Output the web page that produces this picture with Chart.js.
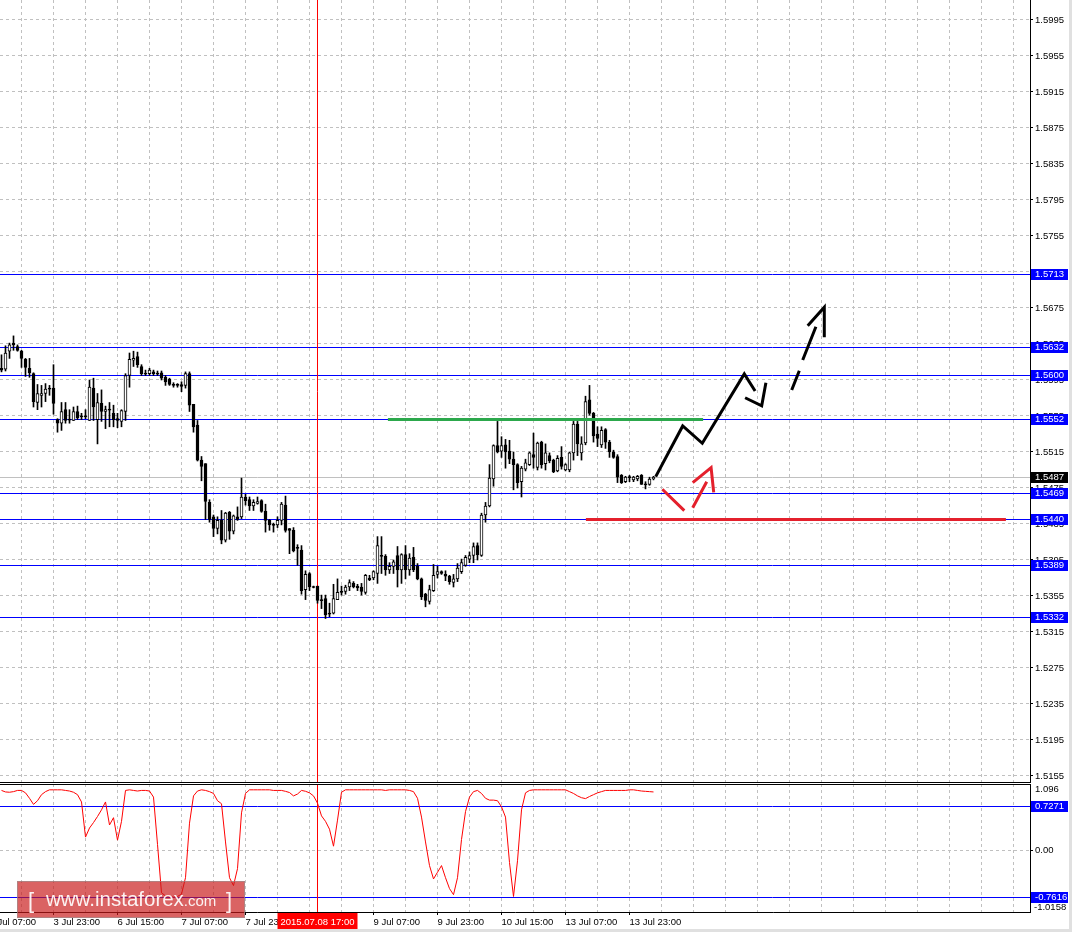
<!DOCTYPE html>
<html><head><meta charset="utf-8">
<script src="https://cdn.jsdelivr.net/npm/chart.js@4.4.1/dist/chart.umd.min.js"></script>
<style>
html,body{margin:0;padding:0;background:#fff;overflow:hidden;}
#wrap{position:relative;width:1072px;height:932px;background:#fff;}
#cMain{position:absolute;left:0;top:0;}
#cOsc{position:absolute;left:0;top:783px;}
</style></head><body>
<div id="wrap">
<canvas id="cMain" width="1072" height="783"></canvas>
<canvas id="cOsc" width="1072" height="149"></canvas>
</div>
<script>
// ---------------- DATA ----------------
const firstBar = -13; // bar index of first candle (bar 0 = 3 Jul 23:00, H1)
const candleOpen = [1.5608,1.5607,1.5627,1.5636,1.5632,1.5627,1.5618,1.5608,1.5602,1.5570,1.5578,1.5580,1.5585,
1.5586,1.5551,1.5547,1.5562,1.5551,1.5550,1.5560,1.5555,1.5554,1.5550,
1.5586,1.5551,1.5569,1.5560,1.5562,1.5558,1.5552,1.5549,1.5560,1.5600,
1.5617,1.5621,1.5610,1.5602,1.5602,1.5604,1.5602,1.5603,1.5598,1.5596,
1.5590,1.5589,1.5590,1.5589,1.5602,1.5568,1.5545,1.5506,1.5502,1.5459,
1.5443,1.5430,1.5439,1.5417,1.5448,1.5427,1.5443,1.5443,1.5465,1.5462,
1.5455,1.5458,1.5461,1.5449,1.5439,1.5434,1.5434,1.5439,1.5456,1.5430,
1.5428,1.5409,1.5406,1.5362,1.5380,1.5365,1.5366,1.5351,1.5352,1.5336,
1.5336,1.5351,1.5360,1.5360,1.5365,1.5369,1.5366,1.5365,1.5359,1.5375,
1.5375,1.5380,1.5400,1.5399,1.5384,1.5388,1.5400,1.5384,1.5401,1.5384,
1.5398,1.5388,1.5374,1.5357,1.5349,1.5361,1.5379,1.5382,1.5379,1.5377,
1.5370,1.5374,1.5382,1.5389,1.5396,1.5400,1.5411,1.5400,1.5445,1.5455,
1.5485,1.5522,1.5516,1.5523,1.5516,1.5507,1.5501,1.5482,1.5496,1.5501,
1.5512,1.5498,1.5526,1.5502,1.5511,1.5506,1.5494,1.5509,1.5495,1.5495,
1.5514,1.5546,1.5514,1.5525,1.5573,1.5558,1.5535,1.5523,1.5540,1.5526,
1.5515,1.5510,1.5489,1.5482,1.5487,1.5484,1.5485,1.5489,1.5479,1.5479,
1.5485];
const candleHigh = [1.5623,1.5633,1.5636,1.5644,1.5634,1.5628,1.5619,1.5619,1.5603,1.5590,1.5589,1.5591,1.5589,
1.5612,1.5552,1.5570,1.5570,1.5562,1.5565,1.5566,1.5558,1.5562,1.5595,
1.5597,1.5580,1.5584,1.5566,1.5570,1.5567,1.5558,1.5562,1.5602,1.5625,
1.5627,1.5626,1.5612,1.5606,1.5608,1.5606,1.5605,1.5605,1.5600,1.5597,
1.5592,1.5591,1.5593,1.5604,1.5604,1.5568,1.5550,1.5510,1.5502,1.5462,
1.5445,1.5443,1.5450,1.5448,1.5449,1.5445,1.5454,1.5486,1.5468,1.5465,
1.5462,1.5465,1.5462,1.5457,1.5440,1.5436,1.5443,1.5459,1.5466,1.5430,
1.5431,1.5412,1.5411,1.5383,1.5381,1.5366,1.5366,1.5356,1.5356,1.5347,
1.5368,1.5374,1.5366,1.5367,1.5373,1.5371,1.5368,1.5369,1.5379,1.5378,
1.5383,1.5421,1.5421,1.5401,1.5392,1.5395,1.5410,1.5402,1.5411,1.5402,
1.5409,1.5391,1.5375,1.5358,1.5367,1.5390,1.5388,1.5383,1.5383,1.5378,
1.5379,1.5391,1.5396,1.5400,1.5404,1.5414,1.5414,1.5447,1.5459,1.5501,
1.5523,1.5549,1.5532,1.5529,1.5528,1.5515,1.5502,1.5499,1.5507,1.5515,
1.5536,1.5526,1.5527,1.5524,1.5514,1.5507,1.5511,1.5521,1.5502,1.5515,
1.5549,1.5549,1.5532,1.5577,1.5589,1.5559,1.5543,1.5543,1.5541,1.5528,
1.5517,1.5512,1.5490,1.5488,1.5489,1.5488,1.5489,1.5490,1.5482,1.5487,
1.5488];
const candleLow = [1.5604,1.5605,1.5619,1.5628,1.5627,1.5609,1.5599,1.5598,1.5565,1.5562,1.5565,1.5571,1.5578,
1.5557,1.5537,1.5539,1.5547,1.5547,1.5550,1.5551,1.5551,1.5552,1.5550,
1.5550,1.5524,1.5549,1.5541,1.5543,1.5543,1.5542,1.5543,1.5550,1.5587,
1.5610,1.5609,1.5600,1.5600,1.5600,1.5600,1.5600,1.5595,1.5589,1.5589,
1.5587,1.5587,1.5582,1.5586,1.5560,1.5537,1.5505,1.5483,1.5440,1.5437,
1.5421,1.5424,1.5413,1.5415,1.5418,1.5424,1.5439,1.5441,1.5456,1.5450,
1.5450,1.5457,1.5448,1.5426,1.5428,1.5426,1.5431,1.5434,1.5426,1.5402,
1.5404,1.5389,1.5357,1.5351,1.5361,1.5364,1.5347,1.5341,1.5330,1.5332,
1.5335,1.5351,1.5356,1.5357,1.5361,1.5364,1.5361,1.5356,1.5357,1.5372,
1.5373,1.5369,1.5380,1.5378,1.5380,1.5380,1.5365,1.5369,1.5374,1.5378,
1.5382,1.5373,1.5351,1.5343,1.5346,1.5360,1.5375,1.5379,1.5372,1.5368,
1.5365,1.5371,1.5380,1.5388,1.5392,1.5392,1.5395,1.5399,1.5437,1.5454,
1.5477,1.5514,1.5509,1.5497,1.5502,1.5473,1.5475,1.5465,1.5494,1.5500,
1.5497,1.5495,1.5497,1.5495,1.5503,1.5492,1.5493,1.5496,1.5494,1.5493,
1.5506,1.5511,1.5506,1.5523,1.5556,1.5526,1.5521,1.5520,1.5519,1.5509,
1.5508,1.5481,1.5480,1.5481,1.5482,1.5482,1.5483,1.5479,1.5474,1.5478,
1.5484];
const candleClose = [1.5606,1.5625,1.5634,1.5634,1.5628,1.5619,1.5609,1.5603,1.5571,1.5580,1.5580,1.5585,1.5586,
1.5569,1.5547,1.5560,1.5550,1.5551,1.5560,1.5553,1.5554,1.5555,1.5587,
1.5565,1.5570,1.5560,1.5562,1.5562,1.5551,1.5550,1.5561,1.5600,1.5618,
1.5619,1.5612,1.5602,1.5602,1.5606,1.5602,1.5602,1.5597,1.5593,1.5590,
1.5589,1.5590,1.5588,1.5602,1.5567,1.5543,1.5506,1.5499,1.5460,1.5440,
1.5430,1.5439,1.5417,1.5447,1.5427,1.5444,1.5440,1.5465,1.5461,1.5455,
1.5459,1.5460,1.5449,1.5439,1.5434,1.5434,1.5439,1.5457,1.5428,1.5428,
1.5405,1.5408,1.5361,1.5379,1.5365,1.5365,1.5350,1.5350,1.5334,1.5335,
1.5352,1.5359,1.5359,1.5365,1.5370,1.5365,1.5364,1.5360,1.5378,1.5373,
1.5382,1.5411,1.5399,1.5384,1.5388,1.5393,1.5384,1.5401,1.5384,1.5397,
1.5384,1.5374,1.5354,1.5350,1.5362,1.5378,1.5382,1.5380,1.5377,1.5371,
1.5374,1.5386,1.5392,1.5398,1.5400,1.5410,1.5401,1.5445,1.5455,1.5486,
1.5522,1.5515,1.5522,1.5515,1.5507,1.5501,1.5481,1.5497,1.5503,1.5514,
1.5509,1.5525,1.5501,1.5514,1.5505,1.5493,1.5508,1.5499,1.5501,1.5514,
1.5546,1.5524,1.5524,1.5571,1.5558,1.5533,1.5530,1.5539,1.5526,1.5515,
1.5509,1.5487,1.5481,1.5487,1.5487,1.5487,1.5488,1.5479,1.5479,1.5485,
1.5487];
const oscValues = [0.99,0.965,0.96,0.97,0.99,0.99,0.95,0.86,0.76,0.82,0.92,0.97,1.0,
1.0,1.0,1.0,0.99,0.98,0.96,0.92,0.80,0.22,0.37,
0.46,0.56,0.67,0.80,0.42,0.54,0.17,0.48,0.99,1.0,
0.99,0.98,0.99,0.99,0.98,0.88,0.10,-0.70,-0.75,-0.76,
-0.77,-0.76,-0.72,-0.45,0.45,0.90,0.98,1.0,0.99,0.97,
0.94,0.82,0.77,0.14,-0.45,-0.58,-0.30,0.62,0.94,1.0,
1.0,1.0,1.0,1.0,1.0,0.99,0.99,0.99,0.975,0.955,
0.90,0.93,0.99,0.976,0.95,0.90,0.78,0.57,0.48,0.35,
0.07,0.50,0.96,1.0,1.0,1.0,1.0,1.0,1.0,1.0,
1.0,1.0,1.0,0.99,1.0,1.0,1.0,1.0,1.0,0.99,
0.97,0.86,0.55,0.14,-0.25,-0.47,-0.36,-0.25,-0.45,-0.63,
-0.73,-0.45,0.18,0.64,0.88,0.97,0.99,0.94,0.86,0.83,
0.83,0.82,0.72,0.55,-0.20,-0.76,-0.17,0.67,0.95,0.99,
1.0,1.0,1.0,1.0,1.0,1.0,1.0,1.0,1.0,0.97,
0.94,0.90,0.87,0.855,0.89,0.92,0.95,0.97,0.99,0.99,
0.99,0.99,0.99,0.99,1.0,1.0,0.99,0.98,0.975,0.97,
0.965];

const priceTicks = [1.5155,1.5195,1.5235,1.5275,1.5315,1.5355,1.5395,1.5435,1.5475,1.5515,1.5555,1.5595,1.5635,1.5675,1.5715,1.5755,1.5795,1.5835,1.5875,1.5915,1.5955,1.5995];
const priceTickLabels = ['1.5155','1.5195','1.5235','1.5275','1.5315','1.5355','1.5395','1.5435','1.5475','1.5515','1.5555','1.5595','1.5635','1.5675','1.5715','1.5755','1.5795','1.5835','1.5875','1.5915','1.5955','1.5995'];
const levelPrices = [1.5713,1.5632,1.5600,1.5552,1.5469,1.5440,1.5389,1.5332];
const levelLabels = ['1.5713','1.5632','1.5600','1.5552','1.5469','1.5440','1.5389','1.5332'];
const bidPrice = 1.5487;
const bidLabel = '1.5487';
const oscLevels = [0.7271,-0.7616];
const oscLevelLabels = ['0.7271','-0.7616'];
const oscMax = 1.096, oscMin = -1.0158;
const oscAxisLabels = ['1.096','0.00','-1.0158'];

const timeLabelBars = [-16,0,16,32,48,64,80,96,112,128,144];
const timeLabels = ['3 Jul 07:00','3 Jul 23:00','6 Jul 15:00','7 Jul 07:00','7 Jul 23:00','8 Jul 15:00','9 Jul 07:00','9 Jul 23:00','10 Jul 15:00','13 Jul 07:00','13 Jul 23:00'];
const crossBar = 66;
const crossLabel = '2015.07.08 17:00';

// drawn analysis objects (bar index, price)
const greenLineBars = [83.6,162.4];
const greenLinePrice = 1.5551;
const redLineBars = [133.1,238.1];
const redLinePrice = 1.5440;
const blackPathBars   = [150.55,157.3,162.2,172.7,175.4,null,172.9,177.05,178.1];
const blackPathPrices = [1.54876,1.55439,1.55247,1.56017,1.55828,null,1.55753,1.55664,1.5592];
const dashPathBars    = [184.55,186.45,null,187.3,190.6,null,188.55,192.7,192.7];
const dashPathPrices  = [1.55839,1.56053,null,1.56172,1.56542,null,1.56553,1.56758,1.56424];
const redPathBars     = [152.2,157.7,null,159.8,163.3,null,159.8,164.4,165.05];
const redPathPrices   = [1.54736,1.54498,null,1.54531,1.5482,null,1.54809,1.54976,1.54702];

// ---------------- AXIS RANGES ----------------
const xMin = -13.375, xMax = xMin + 1030/4;
const priceMax = 1.601722, priceMin = priceMax - 783/9000;
const gridBars = [];
for (let b = -16; b <= 240; b += 8) gridBars.push(b);

const FONT = '"Liberation Sans", Arial, sans-serif';
const FS = 9.5;
Chart.defaults.font.family = FONT;
Chart.defaults.font.size = FS;
Chart.defaults.color = '#000';

const bars = candleOpen.map((o,i) => firstBar + i);
const minBody = 0.00012;
const wickData = bars.map((x,i) => ({x, y:[candleLow[i], candleHigh[i]]}));
const bodyData = bars.map((x,i) => {
  const o = candleOpen[i], c = candleClose[i];
  if (Math.abs(c-o) < minBody) { const m = (o+c)/2; return {x, y:[m-minBody/2, m+minBody/2]}; }
  return {x, y:[o,c]};
});
const bodyFill = bars.map((x,i) => (candleClose[i] - candleOpen[i] >= minBody) ? '#ffffff' : '#000000');

function pathData(bs, ps) {
  return bs.map((b,i) => ({x: b === null ? bs[i-1] : b, y: ps[i]}));
}
function lineDs(data, color, width) {
  return {type:'line', data, borderColor:color, borderWidth:width, pointRadius:0, tension:0,
          spanGaps:false, fill:false, order:0, borderCapStyle:'butt', borderJoinStyle:'miter'};
}

function hline(ctx, a, py, color) {
  const yy = Math.round(py) + 0.5;
  ctx.strokeStyle = color; ctx.lineWidth = 1;
  ctx.beginPath(); ctx.moveTo(a.left, yy); ctx.lineTo(a.right, yy); ctx.stroke();
}
function vline(ctx, a, px, color) {
  const xx = Math.floor(px) + 0.5;
  ctx.strokeStyle = color; ctx.lineWidth = 1;
  ctx.beginPath(); ctx.moveTo(xx, a.top); ctx.lineTo(xx, a.bottom); ctx.stroke();
}
function axisBox(ctx, a, py, text, bg) {
  const r = Math.round(py);
  ctx.fillStyle = bg;
  ctx.fillRect(a.right + 1, r - 5, 37, 11);
  ctx.fillStyle = '#ffffff';
  ctx.font = FS + 'px ' + FONT;
  ctx.textAlign = 'left'; ctx.textBaseline = 'middle';
  ctx.fillText(text, a.right + 5, r + 0.5);
}

const mainDecor = {
  id:'mainDecor',
  beforeDatasetsDraw(chart) {
    const {ctx, chartArea:a, scales:{x, y}} = chart;
    ctx.save();
    hline(ctx, a, y.getPixelForValue(bidPrice), '#c0c0c0');
    levelPrices.forEach(p => hline(ctx, a, y.getPixelForValue(p), '#0000ff'));
    vline(ctx, a, x.getPixelForValue(crossBar), '#ff0000');
    ctx.restore();
  },
  afterDraw(chart) {
    const {ctx, chartArea:a, scales:{y}} = chart;
    ctx.save();
    ctx.fillStyle = '#000';
    ctx.fillRect(0, 782, a.right, 1);
    levelPrices.forEach((p,i) => axisBox(ctx, a, y.getPixelForValue(p), levelLabels[i], '#0000ff'));
    axisBox(ctx, a, y.getPixelForValue(bidPrice), bidLabel, '#000000');
    ctx.fillStyle = '#e0e0e0';
    ctx.fillRect(1069, 0, 3, chart.height);
    ctx.restore();
  }
};

new Chart(document.getElementById('cMain'), {
  type:'bar',
  data:{ datasets:[
    lineDs(greenLineBars.map(b => ({x:b, y:greenLinePrice})), '#2ca84c', 3),
    lineDs(redLineBars.map(b => ({x:b, y:redLinePrice})), '#e4202c', 3),
    lineDs(pathData(blackPathBars, blackPathPrices), '#000000', 3),
    lineDs(pathData(dashPathBars, dashPathPrices), '#000000', 3),
    lineDs(pathData(redPathBars, redPathPrices), '#e4202c', 3),
    {type:'bar', data:bodyData, backgroundColor:bodyFill, borderColor:'#000', borderWidth:1,
     borderSkipped:false, barThickness:3, grouped:false, order:1},
    {type:'bar', data:wickData, backgroundColor:'#000', borderWidth:0, barThickness:1, grouped:false, order:2}
  ]},
  options:{
    responsive:false, animation:false, events:[],
    layout:{padding:0},
    plugins:{legend:{display:false}, tooltip:{enabled:false}},
    scales:{
      x:{type:'linear', min:xMin, max:xMax, offset:false,
        afterBuildTicks(s){ s.ticks = gridBars.map(v => ({value:v})); },
        afterFit(s){ s.height = 0; s.paddingLeft = 0; s.paddingRight = 0; },
        ticks:{display:false},
        grid:{color:'#c0c0c0', drawTicks:false, offset:false},
        border:{display:false, dash:[3,3]}},
      y:{type:'linear', position:'right', min:priceMin, max:priceMax,
        afterBuildTicks(s){ s.ticks = priceTicks.map(v => ({value:v})); },
        afterFit(s){ s.width = 42; s.paddingTop = 0; s.paddingBottom = 0; },
        ticks:{autoSkip:false, padding:2, color:'#000', font:{size:FS, family:FONT},
               callback:(v,i) => priceTickLabels[i]},
        grid:{color:'#c0c0c0', drawTicks:true, tickLength:3, tickColor:'#000', tickBorderDash:[]},
        border:{display:true, color:'#000', width:1, dash:[3,3]}}
    }
  },
  plugins:[mainDecor]
});

const oscDecor = {
  id:'oscDecor',
  beforeDatasetsDraw(chart) {
    const {ctx, chartArea:a, scales:{x, y}} = chart;
    ctx.save();
    oscLevels.forEach(v => hline(ctx, a, y.getPixelForValue(v), '#0000ff'));
    vline(ctx, a, x.getPixelForValue(crossBar), '#ff0000');
    ctx.restore();
  },
  afterDraw(chart) {
    const {ctx, chartArea:a, scales:{x, y}} = chart;
    ctx.save();
    ctx.fillStyle = '#000';
    ctx.fillRect(0, 1, a.right, 1);
    oscLevels.forEach((v,i) => axisBox(ctx, a, y.getPixelForValue(v), oscLevelLabels[i], '#0000ff'));
    ctx.fillStyle = '#000';
    ctx.font = FS + 'px ' + FONT;
    ctx.textAlign = 'left'; ctx.textBaseline = 'middle';
    ctx.fillText(oscAxisLabels[0], a.right + 5, y.getPixelForValue(oscMax) + 5.5);
    ctx.fillText(oscAxisLabels[2], a.right + 4, y.getPixelForValue(oscMin) - 5);
    // crosshair time box
    const cx = Math.floor(x.getPixelForValue(crossBar)) + 0.5;
    ctx.fillStyle = '#ff0000';
    ctx.fillRect(cx - 40, a.bottom + 1, 80, 17);
    ctx.fillStyle = '#ffffff';
    ctx.textAlign = 'center';
    ctx.fillText(crossLabel, cx, a.bottom + 10);
    // watermark
    const wy = 98;
    ctx.fillStyle = 'rgba(200,25,25,0.68)';
    ctx.fillRect(17, wy, 228, 37);
    ctx.strokeStyle = 'rgba(150,150,150,0.6)';
    ctx.lineWidth = 1;
    ctx.strokeRect(17.5, wy + 0.5, 227, 36);
    ctx.fillStyle = 'rgba(255,255,255,0.92)';
    ctx.textAlign = 'left'; ctx.textBaseline = 'alphabetic';
    ctx.font = '22px ' + FONT;
    ctx.fillText('[', 28, wy + 27);
    ctx.fillText(']', 226, wy + 27);
    ctx.font = '20.5px ' + FONT;
    ctx.fillText('www.instaforex', 46, wy + 25);
    const w = ctx.measureText('www.instaforex').width;
    ctx.font = '15px ' + FONT;
    ctx.fillText('.com', 46 + w, wy + 25);
    // frame
    ctx.fillStyle = '#e0e0e0';
    ctx.fillRect(1069, 0, 3, chart.height);
    ctx.fillRect(0, 146, 1072, 3);
    ctx.restore();
  }
};

new Chart(document.getElementById('cOsc'), {
  type:'line',
  data:{ datasets:[
    {data: bars.map((b,i) => ({x:b, y:oscValues[i]})), borderColor:'#ff0000', borderWidth:1,
     pointRadius:0, tension:0, fill:false}
  ]},
  options:{
    responsive:false, animation:false, events:[],
    layout:{padding:{top:1, left:0, right:0, bottom:0}},
    plugins:{legend:{display:false}, tooltip:{enabled:false}},
    scales:{
      x:{type:'linear', min:xMin, max:xMax, offset:false,
        afterBuildTicks(s){ s.ticks = gridBars.map(v => ({value:v})); },
        afterFit(s){ s.height = 20; s.paddingLeft = 0; s.paddingRight = 0; },
        ticks:{autoSkip:false, maxRotation:0, minRotation:0, align:'start', padding:2, color:'#000',
               font:{size:FS, family:FONT},
               callback:(v) => { const k = timeLabelBars.indexOf(v); return k >= 0 ? timeLabels[k] : ''; }},
        grid:{color:'#c0c0c0', drawTicks:true, tickLength:3, tickBorderDash:[],
              tickColor:(c) => (c.tick && timeLabelBars.indexOf(c.tick.value) >= 0) ? '#000' : 'rgba(0,0,0,0)'},
        border:{display:true, color:'#000', width:1, dash:[3,3]}},
      y:{type:'linear', position:'right', min:oscMin, max:oscMax,
        afterBuildTicks(s){ s.ticks = [{value:0}]; },
        afterFit(s){ s.width = 42; s.paddingTop = 0; s.paddingBottom = 0; },
        ticks:{autoSkip:false, padding:2, color:'#000', font:{size:FS, family:FONT},
               callback:() => oscAxisLabels[1]},
        grid:{color:'#c0c0c0', drawTicks:true, tickLength:3, tickColor:'#000', tickBorderDash:[]},
        border:{display:true, color:'#000', width:1, dash:[3,3]}}
    }
  },
  plugins:[oscDecor]
});
</script>
</body></html>
